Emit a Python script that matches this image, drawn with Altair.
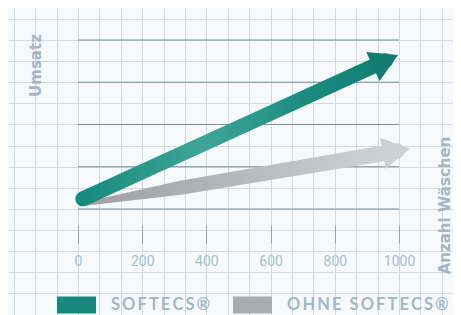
import altair as alt
import pandas as pd

# ---- data ----
series = ["SOFTECS®", "OHNE SOFTECS®"]
series_colors = ["#17897c", "#a9abad"]

x_ticks = [0, 200, 400, 600, 800, 1000]          # Anzahl Wäschen
umsatz_levels = [0, 1, 2, 3, 4]                   # dark reference lines

softecs_washes = [15, 958]
softecs_umsatz = [0.24, 3.51]

ohne_washes = [6, 318, 992]
ohne_umsatz = [0.10, 0.50, 1.37]
ohne_width = [3, 14, 16]

# ---- styling ----
W, H = 445, 307
xs = alt.Scale(domain=[-218.07, 1168.2], nice=False, zero=False)
ys = alt.Scale(domain=[-2.509, 4.757], nice=False, zero=False)
grid_x = [k * 200 / 3 for k in range(-3, 18)]
grid_y = [k * 0.5 for k in range(-5, 10)]
light = "#cfdae2"
dark = "#7890a0"
txt = "#a3b7c5"
is_tick = "datum.value >= -1 && datum.value <= 1001 && abs(datum.value % 200) < 0.01"
thin = "\u2009"

base_df = pd.DataFrame({"x": [0], "y": [0]})

axes_layer = alt.Chart(base_df).mark_point(opacity=0).encode(
    x=alt.X("x:Q", scale=xs, axis=alt.Axis(
        values=grid_x, tickCount=50, grid=True, gridColor=light, gridWidth=1, domain=False,
        ticks=True, tickSize=18, tickColor="#8fa3b1", tickWidth=1,
        tickOpacity={"condition": {"test": is_tick, "value": 1}, "value": 0},
        labelExpr=f"({is_tick}) ? format(datum.value, 'd') : ''",
        labelFont="Roboto", labelFontSize=14, labelColor="#a9bdcb",
        labelPadding=11, labelFlush=False, labelOverlap=False, labelBound=False,
        offset=-90,
        title="Anzahl Wäschen", titleAngle=270, titleX=436, titleY=-20,
        titleFont="DejaVu Sans", titleFontSize=15, titleFontWeight="bold",
        titleColor=txt, titleBaseline="middle", titleAlign="center")),
    y=alt.Y("y:Q", scale=ys, axis=alt.Axis(
        values=grid_y, tickCount=50, grid=True, gridColor=light, gridWidth=1, domain=False,
        ticks=False, labels=False,
        title="Umsatz", titleAngle=270, titleX=27, titleY=57,
        titleFont="DejaVu Sans", titleFontSize=15, titleFontWeight="bold",
        titleColor=txt, titleBaseline="middle", titleAlign="center")),
)

levels_df = pd.DataFrame({"x": [x_ticks[0]] * len(umsatz_levels),
                          "x2": [x_ticks[-1]] * len(umsatz_levels),
                          "y": umsatz_levels})
levels = alt.Chart(levels_df).mark_rule(color=dark, strokeWidth=1).encode(
    x=alt.X("x:Q", scale=xs), x2="x2:Q", y=alt.Y("y:Q", scale=ys))

grey_grad = alt.Gradient(gradient="linear", x1=0, x2=1, y1=0, y2=0, stops=[
    alt.GradientStop(offset=0, color="#9c9ea0"),
    alt.GradientStop(offset=1, color="#d2d5d8")])
green_grad = alt.Gradient(gradient="linear", x1=0, x2=1, y1=0, y2=0, stops=[
    alt.GradientStop(offset=0, color="#168a7d"),
    alt.GradientStop(offset=0.4, color="#3ea698"),
    alt.GradientStop(offset=0.75, color="#1a8a7e"),
    alt.GradientStop(offset=1, color="#0f7f73")])

ohne_df = pd.DataFrame({"x": ohne_washes, "y": ohne_umsatz, "w": ohne_width})
ohne_shaft = alt.Chart(ohne_df).mark_trail(fill=grey_grad).encode(
    x=alt.X("x:Q", scale=xs), y=alt.Y("y:Q", scale=ys),
    size=alt.Size("w:Q", scale=None), order="x:Q")
ohne_head = alt.Chart(ohne_df.tail(1)).mark_point(
    shape="triangle-right", filled=True, size=1000, angle=350.6,
    color="#cdd0d3", opacity=1, strokeWidth=0).encode(
    x=alt.X("x:Q", scale=xs), y=alt.Y("y:Q", scale=ys))

soft_df = pd.DataFrame({"x": softecs_washes, "y": softecs_umsatz})
soft_shaft = alt.Chart(soft_df).mark_line(
    stroke=green_grad, strokeWidth=15, strokeCap="round").encode(
    x=alt.X("x:Q", scale=xs), y=alt.Y("y:Q", scale=ys))
soft_head = alt.Chart(soft_df.tail(1)).mark_point(
    shape="triangle-right", filled=True, size=1024, angle=335.4,
    color="#117d71", opacity=1, strokeWidth=0).encode(
    x=alt.X("x:Q", scale=xs), y=alt.Y("y:Q", scale=ys))

legend_df = pd.DataFrame({"series": series})
legend_layer = alt.Chart(legend_df).mark_point(filled=True, opacity=0).encode(
    color=alt.Color("series:N", scale=alt.Scale(domain=series, range=series_colors),
                    legend=alt.Legend(
                        title=None, orient="none", legendX=49, legendY=277,
                        direction="horizontal",
                        symbolType="M-1,-0.436L1,-0.436L1,0.436L-1,0.436Z",
                        symbolSize=1521, symbolOpacity=1, symbolStrokeWidth=0,
                        labelOffset=15, columnPadding=22, padding=0,
                        labelFont="Lato", labelFontSize=16.5, labelFontWeight="bold",
                        labelColor=txt, labelLimit=400,
                        labelExpr=f"join(split(datum.label, ''), '{thin}')")))

chart = alt.layer(axes_layer, levels, ohne_shaft, ohne_head, soft_shaft, soft_head,
                  legend_layer).properties(
    width=W, height=H, background="#f7fafc",
    autosize=alt.AutoSizeParams(type="none"), padding=0,
).configure_view(stroke=None)

chart.save("out.html", embed_options={"renderer": "svg", "actions": False})
